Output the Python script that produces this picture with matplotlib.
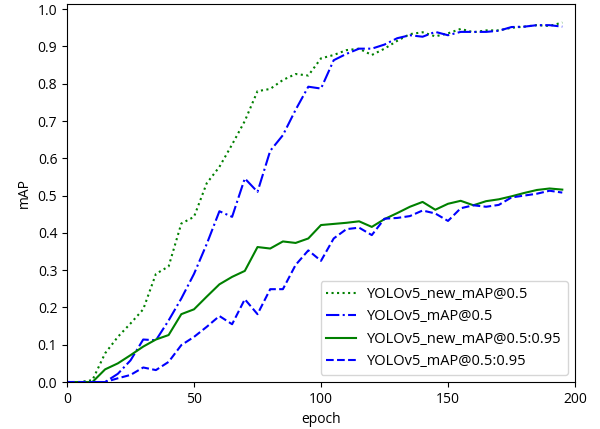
import matplotlib
matplotlib.use("Agg")
import matplotlib.pyplot as plt

plt.rcParams['font.family'] = ['Open Sans', 'DejaVu Sans']
plt.rcParams['font.size'] = 10

# --- данные (шаг 5 эпох) ---
epochs = list(range(0, 200, 5))

new_map50 = [0.0, 0.0, 0.005, 0.077, 0.121, 0.157, 0.195, 0.290, 0.310, 0.425,
             0.443, 0.533, 0.577, 0.637, 0.700, 0.780, 0.786, 0.810, 0.826, 0.822,
             0.868, 0.877, 0.890, 0.894, 0.877, 0.894, 0.915, 0.933, 0.938, 0.927,
             0.935, 0.947, 0.938, 0.943, 0.943, 0.950, 0.953, 0.957, 0.955, 0.964]

map50 = [0.0, 0.0, 0.0, 0.0, 0.022, 0.058, 0.114, 0.112, 0.165, 0.224,
         0.290, 0.370, 0.458, 0.443, 0.546, 0.510, 0.620, 0.662, 0.730, 0.792,
         0.787, 0.863, 0.880, 0.894, 0.894, 0.905, 0.922, 0.930, 0.926, 0.939,
         0.930, 0.939, 0.939, 0.939, 0.942, 0.952, 0.953, 0.957, 0.957, 0.953]

new_map5095 = [0.0, 0.0, 0.0, 0.034, 0.050, 0.072, 0.095, 0.114, 0.126, 0.182,
               0.195, 0.229, 0.262, 0.282, 0.298, 0.362, 0.358, 0.377, 0.373, 0.385,
               0.421, 0.424, 0.427, 0.431, 0.416, 0.437, 0.453, 0.470, 0.483, 0.462,
               0.478, 0.486, 0.474, 0.485, 0.490, 0.498, 0.507, 0.515, 0.519, 0.516]

map5095 = [0.0, 0.0, 0.0, 0.0, 0.010, 0.019, 0.039, 0.032, 0.054, 0.099,
           0.121, 0.148, 0.177, 0.155, 0.222, 0.182, 0.249, 0.249, 0.314, 0.353,
           0.325, 0.385, 0.410, 0.414, 0.394, 0.438, 0.440, 0.445, 0.460, 0.452,
           0.432, 0.466, 0.474, 0.470, 0.475, 0.495, 0.500, 0.505, 0.513, 0.508]

fig = plt.figure(figsize=(6.0, 4.29), dpi=100)
ax = fig.add_axes([0.1117, 0.1095, 0.8466, 0.8805])

ax.plot(epochs, new_map50, color='g', ls=':', lw=1.5, label='YOLOv5_new_mAP@0.5')
ax.plot(epochs, map50, color='b', ls='-.', lw=1.5, label='YOLOv5_mAP@0.5')
ax.plot(epochs, new_map5095, color='g', ls='-', lw=1.5, label='YOLOv5_new_mAP@0.5:0.95')
ax.plot(epochs, map5095, color='b', ls='--', lw=1.5, label='YOLOv5_mAP@0.5:0.95')

ax.set_xlim(0, 200); ax.set_ylim(0, 1.013)
ax.set_xticks([0, 50, 100, 150, 200])
ax.set_yticks([i / 10 for i in range(11)])
ax.set_xlabel('epoch'); ax.set_ylabel('mAP')
ax.legend(loc='lower right', fontsize=10.5)

fig.savefig('out.png', dpi=100)
